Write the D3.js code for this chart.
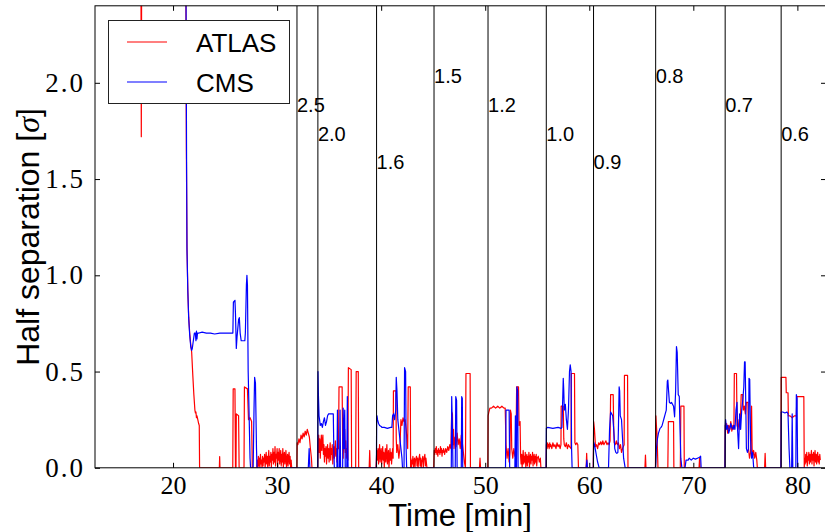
<!DOCTYPE html>
<html><head><meta charset="utf-8">
<script src="https://cdn.jsdelivr.net/npm/d3@7"></script>
<style>body{margin:0;background:#fff}</style>
</head><body><svg id="c" width="825" height="532"></svg>
<script>
const xTicks=[20,30,40,50,60,70,80];
const yTicks=[0,0.5,1.0,1.5,2.0];
const scanTimes=[31.91,33.92,39.56,45.08,50.27,55.87,60.41,66.38,73.06,78.44];
const scanLabels=["2.5","2.0","1.6","1.5","1.2","1.0","0.9","0.8","0.7","0.6"];
const scanLabelY=[1.85,1.7,1.55,2.0,1.85,1.7,1.55,2.0,1.85,1.7];
const seriesNames=["ATLAS","CMS"];

const atlas=[[13,3],[16.9,3],[16.95,1.72],[17.0,3],[21.2,3],[21.24,2.4],[21.28,1.65],[21.34,1.15],[21.42,0.92],[21.5,0.79],[21.6,0.7],[21.7,0.64],[21.79,0.6],[21.9,0.48],[22.0,0.38],[22.1,0.3],[22.15,0.285],[22.2,0.29],[22.25,0.26],[22.3,0.27],[22.38,0.25],[22.46,0.23],[22.52,0.22],[22.55,0],
[24.45,0],[24.48,0.058],[24.51,0],
[25.74,0],[25.78,0.41],[25.95,0.41],[26.0,0],[26.05,0],[26.08,0.28],[26.3,0.27],[26.35,0],
[26.82,0],[26.86,0.42],[27.15,0.41],[27.25,0.25],[27.4,0.26],[27.55,0.24],[27.62,0],[28.05,0],
[28.1,.04],[28.15,0],[28.2,.06],[28.25,.01],[28.3,.05],[28.35,0],[28.4,.07],[28.45,.02],[28.5,.04],[28.55,0],[28.6,.06],[28.65,.01],[28.7,.05],[28.75,.03],[28.8,.07],[28.85,0],[28.9,.04],[28.95,.08],[29.0,.02],[29.05,.06],[29.1,0],[29.15,.05],[29.2,.09],[29.25,.01],[29.3,.06],[29.35,.03],[29.4,.08],[29.45,0],[29.5,.07],[29.55,.04],[29.6,.1],[29.65,.02],[29.7,.08],[29.75,.03],[29.8,.11],[29.85,.01],[29.9,.07],[29.95,.05],[30.0,.1],[30.05,0],[30.1,.08],[30.15,.04],[30.2,.1],[30.25,.02],[30.3,.06],[30.35,.09],[30.4,.01],[30.45,.07],[30.5,.03],[30.55,.1],[30.6,0],[30.65,.06],[30.7,.08],[30.75,.02],[30.8,.05],[30.85,.09],[30.9,0],[30.95,.04],[31.0,.07],[31.05,.01],[31.1,.05],[31.15,.08],[31.2,.02],[31.25,.06],[31.3,0],[31.35,.04],[31.4,0],[31.9,0],
[31.93,.13],[32.0,.12],[32.1,.15],[32.2,.13],[32.3,.17],[32.4,.15],[32.5,.18],[32.6,.16],[32.7,.19],[32.8,.17],[32.9,.2],[33.0,.18],[33.1,.16],[33.2,.1],[33.3,.05],[33.35,0],[33.9,0],
[33.95,.12],[34.0,.17],[34.05,.08],[34.1,.15],[34.15,.05],[34.2,.12],[34.25,.17],[34.3,.09],[34.35,.14],[34.4,.17],[34.45,.07],[34.5,.12],[34.55,.03],[34.6,.1],[34.65,.06],[34.7,.11],[34.75,.02],[34.8,.08],[34.85,.12],[34.9,.05],[34.95,.1],[35.0,.03],[35.05,.09],[35.1,.13],[35.15,.04],[35.2,.1],[35.25,.07],[35.3,.12],[35.35,.02],[35.4,.08],[35.45,.11],[35.5,.05],[35.55,.09],[35.6,.14],[35.65,.06],[35.7,.1],[35.75,.03],[35.8,.08],[35.85,.12],[35.9,.1],[35.95,.42],[36.25,.42],[36.3,.12],[36.35,.05],[36.4,.15],[36.45,.1],[36.5,.2],[36.55,.08],[36.6,.14],[36.65,.05],[36.7,.1],[36.8,.04],[36.85,.52],[37.12,.51],[37.16,0],[37.55,0],[37.6,.5],[37.8,.5],[37.84,0],[38.85,0],[38.9,.09],[38.95,0],[39.5,0],
[39.58,.09],[39.62,.04],[39.7,.1],[39.75,.02],[39.8,.08],[39.85,.12],[39.9,.03],[39.95,.07],[40.0,.1],[40.05,.02],[40.1,.06],[40.15,.11],[40.2,.04],[40.25,.08],[40.3,0],[40.35,.06],[40.4,.1],[40.45,.03],[40.5,.07],[40.55,.12],[40.6,.02],[40.65,.06],[40.7,.09],[40.75,0],[40.8,.05],[40.85,.1],[40.9,.04],[40.95,.08],[41.0,.02],[41.05,.06],[41.1,.1],[41.15,.05],[41.18,.4],[41.42,.4],[41.45,.15],[41.5,.08],[41.6,.12],[41.7,.05],[41.8,.1],[41.9,.25],[42.0,.22],[42.1,.26],[42.2,.24],[42.3,.25],[42.4,.2],[42.55,.1],[42.6,.42],[42.8,.42],[42.83,0],[42.85,.05],[42.9,0],[42.95,.04],[43.0,.02],[43.05,.06],[43.1,0],[43.15,.03],[43.2,.05],[43.25,0],[43.3,.04],[43.4,.06],[43.45,.01],[43.5,.05],[43.55,0],[43.6,.04],[43.7,.07],[43.75,.01],[43.8,.05],[43.85,0],[43.9,.03],[44.0,.06],[44.05,0],[44.1,.04],[44.2,.07],[44.25,.01],[44.3,.05],[44.4,0],[45.05,0],
[45.1,.09],[45.15,.07],[45.2,.1],[45.25,.08],[45.3,.11],[45.35,.07],[45.4,.09],[45.45,.06],[45.5,.1],[45.55,.08],[45.6,.09],[45.65,.07],[45.7,.11],[45.75,.08],[45.8,.1],[45.85,.06],[45.9,.09],[45.95,.08],[46.0,.1],[46.1,.07],[46.2,.1],[46.3,.08],[46.4,.11],[46.5,.09],[46.6,.12],[46.7,.1],[46.78,.29],[46.85,.28],[46.9,.12],[46.95,.2],[47.0,.1],[47.1,.16],[47.2,.11],[47.3,.18],[47.4,.12],[47.5,.15],[47.6,.1],[47.7,.17],[47.8,.13],[47.9,.08],[48.0,.03],[48.1,0],[48.15,.49],[48.55,.49],[48.58,0],[49.45,0],[49.5,.05],[49.55,0],[50.25,0],
[50.28,.27],[50.35,.29],[50.45,.31],[50.6,.31],[50.8,.32],[51.0,.31],[51.2,.32],[51.4,.31],[51.6,.32],[51.8,.31],[51.92,.31],[52.0,.12],[52.1,.05],[52.2,.1],[52.3,.03],[52.38,.08],[52.42,.3],[52.5,.28],[52.55,.1],[52.65,.05],[52.75,.1],[52.85,.06],[52.95,.1],[53.02,.42],[53.2,.42],[53.25,.22],[53.35,.24],[53.4,.06],[53.45,.02],[53.5,.07],[53.55,0],[53.6,.05],[53.65,.09],[53.7,.02],[53.75,.06],[53.8,.03],[53.85,.08],[53.9,0],[53.95,.05],[54.0,.07],[54.05,.01],[54.1,.06],[54.15,.03],[54.2,.08],[54.25,0],[54.3,.05],[54.35,.07],[54.4,.02],[54.45,.06],[54.5,.04],[54.55,.08],[54.6,.01],[54.65,.05],[54.7,.07],[54.75,.02],[54.8,.06],[54.85,.03],[54.9,.07],[54.95,.01],[55.0,.05],[55.1,.06],[55.2,.03],[55.3,.05],[55.35,0],[55.85,0],
[55.88,.12],[55.95,.1],[56.0,.13],[56.05,.11],[56.1,.12],[56.15,.1],[56.2,.13],[56.25,.11],[56.3,.12],[56.4,.1],[56.5,.13],[56.6,.11],[56.7,.12],[56.8,.1],[56.9,.13],[57.0,.11],[57.1,.12],[57.2,.1],[57.28,.12],[57.3,.32],[57.5,.32],[57.55,.15],[57.6,.12],[57.7,.11],[57.8,.13],[57.9,.1],[58.0,.12],[58.1,.11],[58.25,.1],[58.28,.49],[58.58,.49],[58.62,.13],[58.7,.12],[58.8,.13],[58.9,.12],[58.96,0],[59.7,0],[59.75,.075],[59.8,0],[60.38,0],
[60.42,.24],[60.5,.2],[60.6,.11],[60.7,.12],[60.8,.1],[60.9,.13],[61.0,.12],[61.1,.135],[61.2,.12],[61.3,.14],[61.4,.12],[61.5,.13],[61.6,.14],[61.7,.12],[61.8,.13],[61.9,.12],[62.0,.14],[62.05,.38],[62.3,.38],[62.35,.2],[62.4,.13],[62.5,.12],[62.6,.14],[62.7,.12],[62.8,.13],[62.9,.1],[63.0,.12],[63.1,.08],[63.2,.1],[63.35,.12],[63.38,.48],[63.68,.48],[63.72,0],[65.35,0],[65.4,.066],[65.45,0],[66.36,0],
[66.4,.27],[66.45,.22],[66.5,.18],[66.55,.1],[66.6,0],[67.55,0],[67.6,.24],[68.1,.24],[68.13,0],[68.75,0],[68.8,.32],[69.1,.32],[69.13,0],[70.55,0],[70.6,.05],[70.65,0],[73.03,0],
[73.07,.22],[73.1,.2],[73.2,.23],[73.3,.18],[73.4,.22],[73.5,.2],[73.6,.24],[73.7,.19],[73.8,.22],[73.9,.2],[73.94,.49],[74.15,.49],[74.2,.22],[74.3,.2],[74.4,.25],[74.5,.2],[74.6,.38],[74.75,.38],[74.8,.3],[74.9,.32],[75.0,.28],[75.1,.34],[75.25,.34],[75.3,.1],[75.4,.05],[75.5,.08],[75.6,.32],[75.65,.1],[75.7,.06],[75.8,.09],[75.9,.05],[76.0,.08],[76.1,.04],[76.15,0],[76.85,0],[76.9,.075],[76.95,0],[78.42,0],
[78.45,.47],[78.9,.47],[78.93,.39],[79.1,.39],[79.13,.27],[79.3,.27],[79.5,.26],[79.7,.27],[79.9,.27],[79.95,.37],[80.62,.37],[80.66,0],[80.7,.05],[80.75,.02],[80.8,.07],[80.85,.03],[80.9,.08],[80.95,.01],[81.0,.06],[81.05,.04],[81.1,.08],[81.15,.02],[81.2,.07],[81.25,.03],[81.3,.06],[81.35,.09],[81.4,.02],[81.45,.07],[81.5,.04],[81.55,.08],[81.6,.01],[81.65,.06],[81.7,.09],[81.75,.03],[81.8,.07],[81.85,.02],[81.9,.06],[81.95,.08],[82.0,.03],[82.05,.06],[82.1,.02],[82.15,.07],[82.2,.04]];

const cms=[[13,3],[21.2,3],[21.25,2.4],[21.3,1.6],[21.34,1.13],[21.42,0.92],[21.5,0.78],[21.6,0.69],[21.7,0.63],[21.79,0.61],[21.85,0.62],[21.95,0.66],[22.05,0.7],[22.14,0.7],[22.2,0.66],[22.25,0.71],[22.3,0.67],[22.35,0.7],[22.5,0.7],[22.8,0.705],[23.2,0.7],[23.6,0.7],[24.0,0.695],[24.5,0.7],[25.0,0.7],[25.5,0.7],[25.75,0.7],[25.8,0.86],[25.95,0.87],[26.0,0.8],[26.08,0.62],[26.15,0.68],[26.3,0.77],[26.37,0.78],[26.45,0.7],[26.55,0.66],[26.9,0.66],[26.95,0.7],[27.05,0.95],[27.1,1.0],[27.15,0.95],[27.22,0.5],[27.4,0.05],[27.45,0],[27.7,0],[27.78,0.3],[27.84,0.47],[27.92,0.44],[28.02,0.1],[28.07,0],
[33.0,0],[33.08,0.1],[33.15,0],[33.9,0],
[33.93,.5],[33.97,.38],[34.03,.27],[34.08,.25],[34.15,.22],[34.25,.23],[34.35,.21],[34.45,.24],[34.55,.26],[34.65,.22],[34.75,.24],[34.85,.27],[34.95,.28],[35.1,.28],[35.25,.28],[35.4,.28],[35.45,.1],[35.5,0],[35.75,0],[35.8,.3],[35.85,0],[36.0,0],[36.05,.3],[36.1,0],[36.3,0],[36.35,.31],[36.42,.1],[36.5,.3],[36.55,0],[36.7,0],[36.75,.37],[36.82,0],[39.54,0],
[39.57,.265],[39.6,.27],[39.65,.25],[39.75,.23],[39.85,.22],[40.0,.215],[40.07,.21],[40.3,.21],[40.6,.205],[40.9,.21],[41.03,.21],[41.1,.27],[41.2,.28],[41.3,.25],[41.4,.3],[41.45,.47],[41.52,.4],[41.6,.25],[41.7,.2],[41.8,.15],[41.9,.1],[42.0,.05],[42.05,0],[42.2,0],[42.25,.52],[42.35,.5],[42.4,.1],[42.45,0],
[46.74,0],[46.78,.37],[46.85,.2],[46.9,0],[47.12,0],[47.17,.37],[47.25,.35],[47.3,0],[47.7,0],[47.74,.37],[47.8,.36],[47.84,0],[51.95,0],
[52.0,.3],[52.3,.3],[52.35,0],[52.85,0],[52.9,.27],[52.95,0],[53.0,0],[53.05,.42],[53.12,.4],[53.16,0],[55.85,0],
[55.88,.205],[56.0,.21],[56.5,.205],[57.0,.21],[57.3,.205],[57.37,.21],[57.42,.3],[57.5,.465],[57.55,.4],[57.6,.3],[57.7,.33],[57.8,.25],[57.9,.2],[58.0,.3],[58.1,.5],[58.17,.535],[58.25,.5],[58.3,.1],[58.35,0],[59.7,0],[59.77,.04],[59.82,0],[60.39,0],
[60.42,.135],[60.5,.12],[60.6,.09],[60.7,.06],[60.8,.03],[60.95,0],[61.85,0],[61.95,.2],[62.05,.29],[62.15,.28],[62.25,.27],[62.35,.2],[62.45,.1],[62.55,.08],[62.65,.075],[62.75,.08],[62.8,.2],[62.87,.42],[62.92,.4],[62.98,.27],[63.1,.25],[63.2,.15],[63.3,.05],[63.45,0],[66.36,0],
[66.4,.03],[66.45,.1],[66.55,.15],[66.65,.18],[66.8,.205],[66.9,.21],[67.0,.22],[67.1,.24],[67.2,.26],[67.3,.28],[67.4,.3],[67.5,.45],[67.55,.456],[67.62,.4],[67.7,.34],[67.8,.335],[67.9,.34],[68.0,.33],[68.1,.32],[68.2,.265],[68.3,.4],[68.38,.63],[68.45,.6],[68.55,.38],[68.65,.37],[68.72,.2],[68.8,.05],[68.9,0],[69.2,0],[69.3,.04],[69.5,.04],[69.6,.05],[69.8,.04],[70.0,.05],[70.2,.045],[70.4,.05],[70.6,.055],[70.7,.06],[70.75,0],[73.04,0],
[73.07,.22],[73.1,.25],[73.2,.2],[73.3,.22],[73.4,.18],[73.5,.2],[73.6,.23],[73.7,.21],[73.8,.2],[73.9,.22],[74.0,.2],[74.1,.3],[74.2,.34],[74.25,.2],[74.35,.1],[74.45,.28],[74.55,.2],[74.65,.3],[74.75,.35],[74.85,.42],[74.92,.55],[74.98,.55],[75.05,.3],[75.1,.1],[75.2,.08],[75.3,.1],[75.35,.465],[75.42,.46],[75.5,.15],[75.6,.05],[75.7,.08],[75.8,0],[78.42,0],
[78.45,.29],[78.6,.29],[78.8,.285],[79.0,.29],[79.1,.28],[79.2,.1],[79.28,0],[79.45,0],[79.5,.28],[79.56,0],[79.85,0],[79.9,.38],[79.97,.36],[80.02,0],[82.2,0]];

const L=95,R=826,T=5.8,B=467.8;
const svg=d3.select("#c");
const x=d3.scaleLinear().domain([12.5,82.75]).range([L,R]);
const y=d3.scaleLinear().domain([0,2.4]).range([B,T]);

svg.append("defs").append("clipPath").attr("id","clip")
  .append("rect").attr("x",L).attr("y",T).attr("width",R-L).attr("height",B-T);

const plot=svg.append("g").attr("clip-path","url(#clip)");
const line=d3.line().x(d=>x(d[0])).y(d=>y(d[1]));
const colors=["#ff0000","#0000ff"];
[atlas,cms].forEach((s,i)=>{
  plot.append("path").datum(s).attr("d",line).attr("fill","none")
    .attr("stroke",colors[i]).attr("stroke-width",1.2).attr("stroke-linejoin","round");
});

plot.selectAll("line.scan").data(scanTimes).enter().append("line")
  .attr("x1",d=>x(d)).attr("x2",d=>x(d)).attr("y1",T).attr("y2",B)
  .attr("stroke","#000").attr("stroke-width",1);

svg.selectAll("text.scan").data(scanTimes).enter().append("text")
  .attr("x",d=>x(d)).attr("y",(d,i)=>y(scanLabelY[i]))
  .attr("font-family","Liberation Sans, Arial, sans-serif").attr("font-size",20)
  .text((d,i)=>scanLabels[i]);

const fontSerif="Liberation Serif, Times New Roman, serif";
const gx=svg.append("g").attr("transform",`translate(0,${B})`)
  .call(d3.axisBottom(x).tickValues(xTicks).tickSizeInner(-5).tickSizeOuter(0).tickPadding(8).tickFormat(d3.format("d")));
const gy=svg.append("g").attr("transform",`translate(${L},0)`)
  .call(d3.axisLeft(y).tickValues(yTicks).tickSizeInner(-5).tickSizeOuter(0).tickPadding(10).tickFormat(d3.format(".1f")));
const gt=svg.append("g").attr("transform",`translate(0,${T})`)
  .call(d3.axisTop(x).tickValues(xTicks).tickSizeInner(-5).tickSizeOuter(0).tickFormat(""));
const gr=svg.append("g").attr("transform",`translate(${R},0)`)
  .call(d3.axisRight(y).tickValues(yTicks).tickSizeInner(-5).tickSizeOuter(0).tickFormat(""));
[gx,gy,gt,gr].forEach(g=>{
  g.select(".domain").remove();
  g.selectAll("line").attr("stroke","#000");
  g.selectAll("text").attr("font-family",fontSerif).attr("font-size",26).attr("fill","#000");
});
gy.selectAll("text").attr("font-size",27).attr("letter-spacing","2px");

svg.append("rect").attr("x",L).attr("y",T).attr("width",R-L).attr("height",B-T)
  .attr("fill","none").attr("stroke","#000").attr("stroke-width",1);

svg.append("text").attr("x",460).attr("y",526).attr("text-anchor","middle")
  .attr("font-family","Liberation Sans, Arial, sans-serif").attr("font-size",31).text("Time [min]");
const yl=svg.append("text").attr("transform","translate(39,237) rotate(-90)").attr("text-anchor","middle")
  .attr("font-family","Liberation Sans, Arial, sans-serif").attr("font-size",32);
yl.append("tspan").text("Half separation [");
yl.append("tspan").attr("font-family",fontSerif).attr("font-style","italic").text("σ");
yl.append("tspan").text("]");

const lg=svg.append("g");
lg.append("rect").attr("x",108.5).attr("y",20.5).attr("width",181).attr("height",83)
  .attr("fill","#fff").attr("stroke","#222").attr("stroke-width",1);
seriesNames.forEach((n,i)=>{
  const yy=42+i*40;
  lg.append("line").attr("x1",127).attr("x2",167).attr("y1",yy).attr("y2",yy)
    .attr("stroke",colors[i]).attr("stroke-width",1.2);
  lg.append("text").attr("x",196).attr("y",yy+9.5)
    .attr("font-family","Liberation Sans, Arial, sans-serif").attr("font-size",26).text(n);
});
</script></body></html>
